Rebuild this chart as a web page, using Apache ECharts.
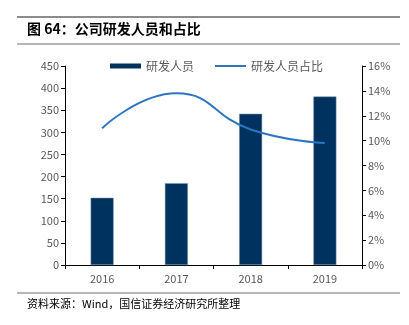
<!DOCTYPE html>
<html><head><meta charset="utf-8">
<script src="https://cdn.jsdelivr.net/npm/echarts@6/dist/echarts.min.js"></script>
<style>html,body{margin:0;padding:0;background:#fff}#c{width:409px;height:325px}</style>
</head><body><div id="c"></div>
<script>
const categories = ['2016', '2017', '2018', '2019'];
const staffCount = [152, 185, 342, 381];
const staffRatio = [11.0, 13.8, 10.9, 9.8];
const leftTicks = [0, 450, 50];
const rightTicks = [0, 16, 2];

const chart = echarts.init(document.getElementById('c'));
const labelColor = '#595959';
const font = '"Noto Sans CJK SC", "Liberation Sans", sans-serif';
chart.setOption({
  animation: false,
  textStyle: { fontFamily: font },
  graphic: [
    { type: 'line', shape: { x1: 17, y1: 17, x2: 400, y2: 17 }, style: { stroke: '#8c8c8c', lineWidth: 2 } },
    { type: 'text', left: 27, top: 22, style: { text: '图 64：公司研发人员和占比', font: 'bold 14px ' + font, fill: '#000' } },
    { type: 'line', shape: { x1: 17, y1: 44, x2: 400, y2: 44 }, style: { stroke: '#6e6e6e', lineWidth: 1 } },
    { type: 'line', shape: { x1: 17, y1: 293, x2: 400, y2: 293 }, style: { stroke: '#6e6e6e', lineWidth: 1 } },
    { type: 'text', left: 27, top: 298, style: { text: '资料来源：Wind，国信证券经济研究所整理', font: '11px ' + font, fill: '#000' } }
  ],
  legend: {
    left: 105, top: 55, itemGap: 20, itemWidth: 31, itemHeight: 5,
    textStyle: { color: labelColor, fontSize: 12, fontFamily: font },
    data: [
      { name: '研发人员', icon: 'rect', itemStyle: { borderWidth: 0 } },
      { name: '研发人员占比', itemStyle: { opacity: 0 } }
    ]
  },
  grid: { left: 65, right: 47, top: 66, bottom: 60, containLabel: false },
  xAxis: {
    type: 'category', data: categories,
    axisLine: { lineStyle: { color: '#000', width: 1 } },
    axisTick: { show: true, length: 4, lineStyle: { color: '#000' } },
    axisLabel: { color: labelColor, fontSize: 11, margin: 8 }
  },
  yAxis: [
    {
      type: 'value', min: leftTicks[0], max: leftTicks[1], interval: leftTicks[2],
      axisLine: { show: true, lineStyle: { color: '#000' } },
      axisTick: { show: true, length: 4, lineStyle: { color: '#000' } },
      splitLine: { show: false },
      axisLabel: { color: labelColor, fontSize: 11, margin: 6 }
    },
    {
      type: 'value', min: rightTicks[0], max: rightTicks[1], interval: rightTicks[2],
      position: 'right',
      axisLine: { show: true, lineStyle: { color: '#000' } },
      axisTick: { show: true, length: 4, lineStyle: { color: '#000' } },
      splitLine: { show: false },
      axisLabel: { color: labelColor, fontSize: 11, margin: 6, formatter: '{value}%' }
    }
  ],
  series: [
    {
      name: '研发人员', type: 'bar', data: staffCount, barWidth: 23,
      itemStyle: { color: '#00325F', borderColor: '#7f97b2', borderWidth: 0.5 }
    },
    {
      name: '研发人员占比', type: 'line', yAxisIndex: 1, data: staffRatio,
      smooth: true, symbol: 'none',
      lineStyle: { color: '#2E75C0', width: 2 }, itemStyle: { color: '#2E75C0' }
    }
  ]
});
</script></body></html>
